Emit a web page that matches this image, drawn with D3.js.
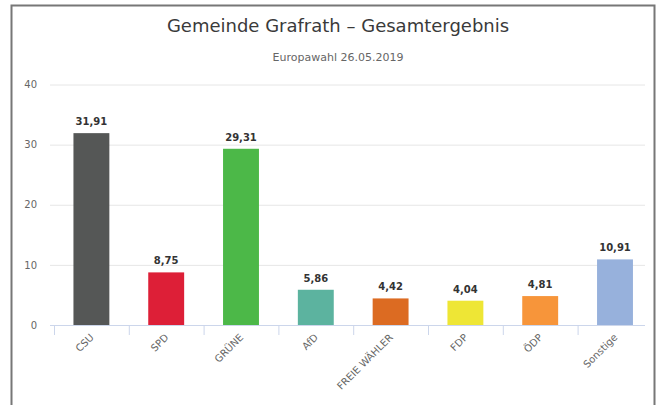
<!DOCTYPE html>
<html>
<head>
<meta charset="utf-8">
<script src="https://cdn.jsdelivr.net/npm/d3@7"></script>
<style>
  body { margin: 0; background: #fff; overflow: hidden; }
  svg { display: block; font-family: "DejaVu Sans", sans-serif; }
</style>
</head>
<body>
<svg id="chart" width="656" height="405"></svg>
<script>
// Parteien und Ergebnisse (Prozent)
const parties = ["CSU", "SPD", "GRÜNE", "AfD", "FREIE WÄHLER", "FDP", "ÖDP", "Sonstige"];
const results = [31.91, 8.75, 29.31, 5.86, 4.42, 4.04, 4.81, 10.91];
const colors = ["#555756", "#dd1f37", "#4cb848", "#5cb39f", "#dc6b22", "#eee635", "#f7953a", "#97b1dc"];
const yTicks = [0, 10, 20, 30, 40];

const title = "Gemeinde Grafrath – Gesamtergebnis";
const subtitle = "Europawahl 26.05.2019";

const svg = d3.select("#chart");

// frame around the chart (bottom edge is cut off in the original)
svg.append("path")
  .attr("d", "M11.5,410 V5.5 H654.5 V410")
  .attr("fill", "none")
  .attr("stroke", "#777")
  .attr("stroke-width", 2);

const x = d3.scaleBand()
  .domain(parties)
  .range([54, 652.4])
  .paddingInner(0.52)
  .paddingOuter(0.26);

const y = d3.scaleLinear()
  .domain([0, 40])
  .range([325, 84.5]);

// titles
svg.append("text")
  .attr("x", 338).attr("y", 32)
  .attr("text-anchor", "middle")
  .attr("font-size", 18)
  .attr("fill", "#3a3a3a")
  .text(title);

svg.append("text")
  .attr("x", 338).attr("y", 61)
  .attr("text-anchor", "middle")
  .attr("font-size", 11)
  .attr("fill", "#666")
  .text(subtitle);

// gridlines + y labels
const yAxis = svg.append("g")
  .attr("transform", "translate(50,0)")
  .call(d3.axisLeft(y).tickValues(yTicks).tickSize(-595).tickPadding(13));
yAxis.select(".domain").remove();
yAxis.selectAll(".tick line").attr("stroke", "#e6e6e6");
yAxis.selectAll(".tick text")
  .attr("fill", "#666")
  .attr("font-size", 10)
  .attr("font-family", "DejaVu Sans, sans-serif");

// x axis line and ticks between categories
const step = x.step();
const xAxis = svg.append("g");
xAxis.append("line")
  .attr("x1", 50).attr("x2", 645)
  .attr("y1", y(0) + 0.5).attr("y2", y(0) + 0.5)
  .attr("stroke", "#ccd6eb");
xAxis.selectAll(".xtick")
  .data(parties)
  .enter()
  .append("line")
  .attr("class", "xtick")
  .attr("x1", (d) => x(d) - step * 0.26 + 0.5)
  .attr("x2", (d) => x(d) - step * 0.26 + 0.5)
  .attr("y1", y(0))
  .attr("y2", y(0) + 10)
  .attr("stroke", "#ccd6eb");

xAxis.selectAll(".xlabel")
  .data(parties)
  .enter()
  .append("text")
  .attr("class", "xlabel")
  .attr("text-anchor", "end")
  .attr("font-size", 10)
  .attr("fill", "#666")
  .attr("transform", (d) => "translate(" + (x(d) + x.bandwidth() / 2 + 3) + "," + (y(0) + 13) + ") rotate(-45)")
  .text((d) => d);

// bars
svg.selectAll(".bar")
  .data(results)
  .enter()
  .append("rect")
  .attr("class", "bar")
  .attr("x", (d, i) => x(parties[i]))
  .attr("y", (d) => y(d))
  .attr("width", x.bandwidth())
  .attr("height", (d) => y(0) - y(d))
  .attr("fill", (d, i) => colors[i]);

// value labels
svg.selectAll(".val")
  .data(results)
  .enter()
  .append("text")
  .attr("class", "val")
  .attr("x", (d, i) => x(parties[i]) + x.bandwidth() / 2)
  .attr("y", (d) => y(d) - 8)
  .attr("text-anchor", "middle")
  .attr("font-size", 10)
  .attr("font-weight", "bold")
  .attr("fill", "#333")
  .text((d) => d.toFixed(2).replace(".", ","));
</script>
</body>
</html>
